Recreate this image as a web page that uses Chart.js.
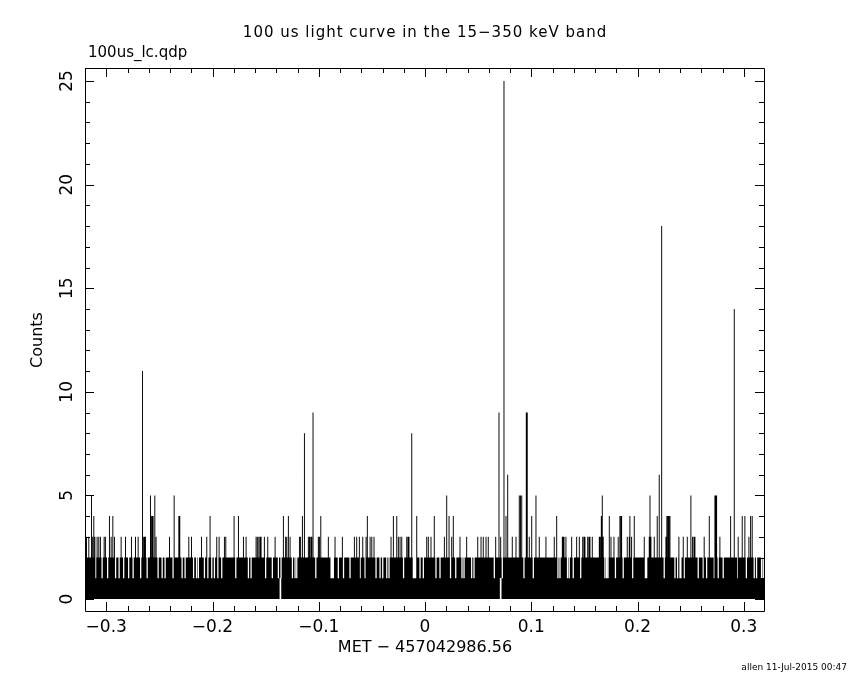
<!DOCTYPE html>
<html>
<head>
<meta charset="utf-8">
<title>100 us light curve</title>
<script src="https://cdn.jsdelivr.net/npm/chart.js@4.4.0/dist/chart.umd.min.js"></script>
<style>
    html, body { margin: 0; padding: 0; background: #fff; }
    canvas { display: block; }
</style>
</head>
<body>
<canvas id="curva-luz" width="850" height="680"></canvas>
<script>
// contagens por bin de 100 us (so o envelope de cada coluna)
const nivelBase = 2;

// picos acima do envelope de base (tempo em s, contagens)
const picoTempos = [
    -0.3186, -0.3164, -0.3139, -0.3128, -0.3117, -0.3107, -0.3086, -0.3070, -0.3055, -0.3020,
    -0.3008, -0.2970, -0.2954, -0.2938, -0.2923, -0.2860, -0.2819, -0.2763, -0.2725, -0.2700,
    -0.2659, -0.2648, -0.2639, -0.2631, -0.2584, -0.2575, -0.2565, -0.2559, -0.2543, -0.2531,
    -0.2405, -0.2361, -0.2317, -0.2308, -0.2223, -0.2198, -0.2104, -0.2054, -0.2023, -0.1960,
    -0.1938, -0.1888, -0.1875, -0.1797, -0.1756, -0.1709, -0.1684, -0.1590, -0.1578, -0.1564,
    -0.1552, -0.1543, -0.1512, -0.1480, -0.1411, -0.1333, -0.1312, -0.1301, -0.1286, -0.1270,
    -0.1182, -0.1171, -0.1154, -0.1135, -0.1098, -0.1087, -0.1075, -0.1066, -0.1054, -0.1004,
    -0.0994, -0.0981, -0.0910, -0.0847, -0.0778, -0.0665, -0.0643, -0.0618, -0.0586, -0.0555,
    -0.0543, -0.0517, -0.0501, -0.0480, -0.0320, -0.0298, -0.0266, -0.0251, -0.0235, -0.0219,
    -0.0172, -0.0160, -0.0151, -0.0125, -0.0078, 0.0016, 0.0031, 0.0056, 0.0087, 0.0182,
    0.0204, 0.0226, 0.0251, 0.0266, 0.0329, 0.0392, 0.0496, 0.0527, 0.0548, 0.0574,
    0.0595, 0.0665, 0.0696, 0.0712, 0.0743, 0.0762, 0.0778, 0.0821, 0.0856, 0.0887,
    0.0898, 0.0910, 0.0953, 0.0962, 0.0981, 0.1004, 0.1044, 0.1075, 0.1138, 0.1216,
    0.1239, 0.1292, 0.1301, 0.1308, 0.1326, 0.1380, 0.1427, 0.1452, 0.1484, 0.1496,
    0.1505, 0.1531, 0.1543, 0.1552, 0.1574, 0.1640, 0.1649, 0.1659, 0.1668, 0.1677,
    0.1734, 0.1750, 0.1778, 0.1818, 0.1834, 0.1844, 0.1850, 0.1903, 0.1922, 0.1928,
    0.1944, 0.1969, 0.2063, 0.2110, 0.2117, 0.2126, 0.2157, 0.2185, 0.2204, 0.2227,
    0.2267, 0.2276, 0.2286, 0.2295, 0.2305, 0.2389, 0.2430, 0.2468, 0.2502, 0.2518,
    0.2531, 0.2540, 0.2627, 0.2675, 0.2728, 0.2737, 0.2744, 0.2775, 0.2876, 0.2910,
    0.2947, 0.2985, 0.3010, 0.3048, 0.3064, 0.3079
];
const picoContagens = [
    3, 3, 5, 3, 4, 3, 3, 3, 3, 3,
    3, 4, 3, 4, 3, 3, 3, 3, 3, 3,
    11, 3, 3, 3, 5, 4, 4, 4, 5, 3,
    3, 5, 4, 4, 3, 3, 3, 3, 4, 3,
    3, 3, 3, 4, 4, 3, 3, 3, 3, 3,
    3, 3, 3, 3, 3, 4, 3, 3, 4, 3,
    3, 3, 4, 8, 3, 3, 3, 3, 9, 3,
    3, 4, 3, 3, 3, 3, 3, 3, 3, 3,
    4, 3, 3, 3, 3, 4, 4, 3, 3, 3,
    3, 3, 3, 8, 4, 3, 3, 3, 4, 3,
    5, 4, 3, 4, 3, 3, 3, 3, 3, 3,
    3, 3, 9, 3, 25, 4, 6, 3, 3, 5,
    5, 5, 9, 9, 3, 4, 5, 3, 3, 3,
    4, 3, 3, 3, 3, 3, 3, 3, 3, 3,
    3, 3, 3, 3, 3, 3, 3, 4, 5, 3,
    4, 3, 3, 3, 4, 4, 4, 3, 3, 4,
    3, 4, 3, 3, 5, 3, 3, 4, 6, 18,
    3, 4, 4, 4, 4, 3, 3, 3, 5, 3,
    3, 3, 3, 4, 5, 5, 5, 3, 4, 14,
    3, 4, 4, 3, 4, 4
];

// colunas onde o maximo fica em 1 contagem
const quedaTempos = [
    -0.3100, -0.3039, -0.2987, -0.2912, -0.2879, -0.2836, -0.2789, -0.2747, -0.2676, -0.2615,
    -0.2512, -0.2474, -0.2446, -0.2371, -0.2286, -0.2258, -0.2178, -0.2150, -0.2133, -0.2076,
    -0.2044, -0.2007, -0.1982, -0.1950, -0.1913, -0.1781, -0.1662, -0.1637, -0.1500, -0.1437,
    -0.1380, -0.1355, -0.1248, -0.1223, -0.1207, -0.1028, -0.0884, -0.0873, -0.0863, -0.0816,
    -0.0767, -0.0706, -0.0611, -0.0564, -0.0461, -0.0423, -0.0398, -0.0360, -0.0339, -0.0202,
    -0.0110, -0.0099, -0.0087, -0.0047, -0.0016, 0.0103, 0.0141, 0.0240, 0.0289, 0.0348,
    0.0367, 0.0439, 0.0461, 0.0652, 0.0727, 0.0931, 0.1019, 0.1251, 0.1270, 0.1341,
    0.1357, 0.1395, 0.1465, 0.1693, 0.1709, 0.1722, 0.1792, 0.1865, 0.1954, 0.2074,
    0.2086, 0.2251, 0.2352, 0.2377, 0.2399, 0.2408, 0.2439, 0.2571, 0.2618, 0.2650,
    0.2722, 0.2759, 0.2806, 0.2942, 0.3024, 0.3098, 0.3120, 0.3167, 0.3183
];

// colunas sem nenhum bin com zero contagens
const semZeroTempos = [-0.1361, 0.0712];

const ticksX = [-0.3, -0.2, -0.1, 0, 0.1, 0.2, 0.3];
const rotulosX = ['\u22120.3', '\u22120.2', '\u22120.1', '0', '0.1', '0.2', '0.3'];
const ticksY = [0, 5, 10, 15, 20, 25];
const rotulosY = ['0', '5', '10', '15', '20', '25'];

const xMin = -0.32, xMax = 0.319;
const yMin = -0.58, yMax = 25.63;
const passoMenorX = 0.02, passoMenorY = 1;
const larguraPico = 0.0009, larguraQueda = 0.0012;

function montarEnvelope() {
    const trechos = [];
    picoTempos.forEach((t, i) => {
        trechos.push({ ini: t - larguraPico / 2, fim: t + larguraPico / 2, nivel: picoContagens[i], pico: true });
    });
    quedaTempos.forEach(t => {
        trechos.push({ ini: t - larguraQueda / 2, fim: t + larguraQueda / 2, nivel: 1, pico: false });
    });

    let cortes = [xMin, xMax];
    trechos.forEach(tr => cortes.push(tr.ini, tr.fim));
    cortes = [...new Set(cortes)].filter(c => c >= xMin && c <= xMax).sort((a, b) => a - b);

    const pontos = [];
    for (let i = 0; i < cortes.length - 1; i++) {
        const meio = (cortes[i] + cortes[i + 1]) / 2;
        let maxPico = 0, temQueda = false;
        trechos.forEach(tr => {
            if (meio >= tr.ini && meio < tr.fim) {
                if (tr.pico) maxPico = Math.max(maxPico, tr.nivel);
                else temQueda = true;
            }
        });
        const nivel = maxPico > 0 ? maxPico : (temQueda ? 1 : nivelBase);
        pontos.push({ x: cortes[i], y: nivel });
    }
    pontos.push({ x: xMax, y: pontos[pontos.length - 1].y });
    return pontos;
}

// moldura, ticks para dentro e textos no estilo do QDP
const moldura = {
    id: 'moldura',
    afterDatasetsDraw(chart) {
        const { ctx, chartArea: a, scales: { x, y } } = chart;
        ctx.save();
        ctx.strokeStyle = '#000';
        ctx.fillStyle = '#000';
        ctx.lineWidth = 1;

        ctx.beginPath();
        ctx.moveTo(a.left + 0.5, a.top + 0.5);
        ctx.lineTo(a.right + 0.5, a.top + 0.5);
        ctx.lineTo(a.right + 0.5, a.bottom + 0.5);
        ctx.lineTo(a.left + 0.5, a.bottom + 0.5);
        ctx.closePath();
        ctx.stroke();

        ctx.beginPath();
        for (let k = Math.ceil(xMin / passoMenorX); k * passoMenorX <= xMax; k++) {
            const v = k * passoMenorX;
            const maior = ticksX.some(t => Math.abs(t - v) < 1e-6);
            const len = maior ? 9 : 5;
            const px = Math.round(x.getPixelForValue(v)) + 0.5;
            ctx.moveTo(px, a.bottom);
            ctx.lineTo(px, a.bottom - len);
            ctx.moveTo(px, a.top);
            ctx.lineTo(px, a.top + len);
        }
        for (let v = 0; v <= 25; v += passoMenorY) {
            const maior = ticksY.includes(v);
            const len = maior ? 9 : 5;
            const py = Math.round(y.getPixelForValue(v)) + 0.5;
            ctx.moveTo(a.left, py);
            ctx.lineTo(a.left + len, py);
            ctx.moveTo(a.right, py);
            ctx.lineTo(a.right - len, py);
        }
        ctx.stroke();

        ctx.textAlign = 'center';
        ctx.textBaseline = 'middle';
        ctx.font = '17px "DejaVu Sans"';
        ticksX.forEach((v, i) => {
            ctx.fillText(rotulosX[i], x.getPixelForValue(v), 628);
        });
        ticksY.forEach((v, i) => {
            ctx.save();
            ctx.translate(68, y.getPixelForValue(v));
            ctx.rotate(-Math.PI / 2);
            ctx.fillText(rotulosY[i], 0, 0);
            ctx.restore();
        });

        ctx.font = '15px "DejaVu Sans"';
        ctx.letterSpacing = '1px';
        ctx.fillText('100 us light curve in the 15\u2212350 keV band', 425, 33);
        ctx.letterSpacing = '0px';
        ctx.font = '16px "DejaVu Sans"';
        ctx.fillText('MET \u2212 457042986.56', 425, 648);
        ctx.save();
        ctx.translate(38, 340);
        ctx.rotate(-Math.PI / 2);
        ctx.fillText('Counts', 0, 0);
        ctx.restore();

        ctx.textAlign = 'left';
        ctx.font = '15px "DejaVu Sans"';
        ctx.fillText('100us_lc.qdp', 88, 53);

        ctx.textAlign = 'right';
        ctx.font = '9px "DejaVu Sans"';
        ctx.fillText('allen 11-Jul-2015 00:47', 847, 668);
        ctx.restore();
    }
};

document.addEventListener('DOMContentLoaded', function() {
    const ctx = document.getElementById('curva-luz').getContext('2d');
    new Chart(ctx, {
        type: 'line',
        data: {
            datasets: [{
                label: 'Counts',
                data: montarEnvelope(),
                stepped: true,
                fill: 'origin',
                backgroundColor: '#000',
                borderColor: 'rgba(0,0,0,0)',
                borderWidth: 1,
                pointRadius: 0,
                order: 2
            }, {
                type: 'bar',
                label: 'sem zero',
                data: semZeroTempos.map(t => ({ x: t, y: [0, 1] })),
                backgroundColor: '#fff',
                barThickness: 1,
                order: 1
            }]
        },
        options: {
            responsive: false,
            animation: false,
            layout: { padding: { left: 85, right: 86, top: 68, bottom: 69 } },
            scales: {
                x: { type: 'linear', min: xMin, max: xMax, offset: false, display: false },
                y: { type: 'linear', min: yMin, max: yMax, display: false }
            },
            plugins: {
                legend: { display: false },
                tooltip: { enabled: false }
            }
        },
        plugins: [moldura]
    });
});
</script>
</body>
</html>
